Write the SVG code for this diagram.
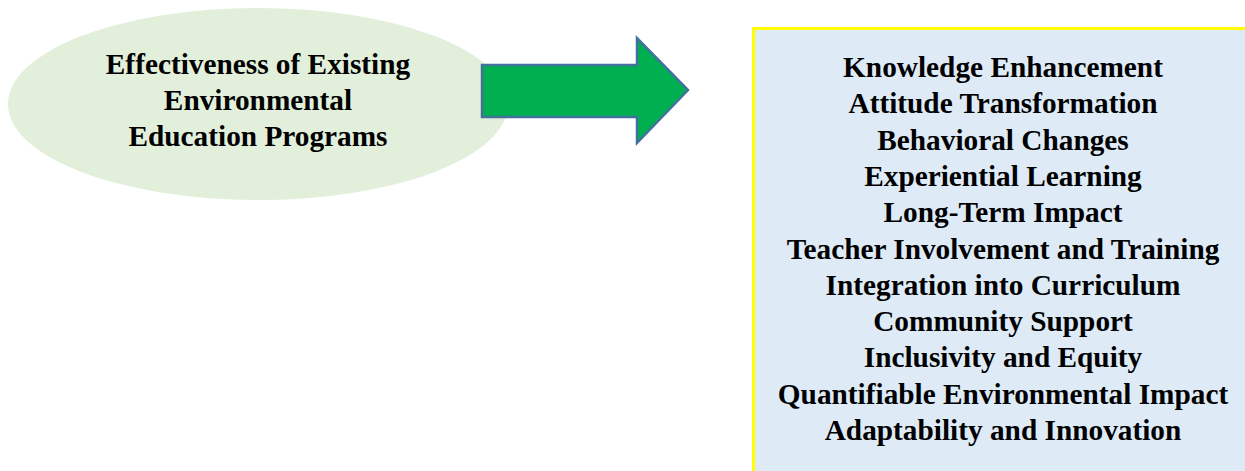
<svg xmlns="http://www.w3.org/2000/svg" width="1245" height="471" viewBox="0 0 1245 471">
  <style>
    .label { font-family: "Liberation Serif", "Times New Roman", serif; font-weight: bold; font-size: 29.3px; fill: #000; text-anchor: middle; }
  </style>
  <rect width="1245" height="471" fill="#ffffff"/>

  <!-- Topic ellipse -->
  <g id="topic">
    <ellipse cx="258" cy="104" rx="250" ry="96" fill="#E2EFDA"/>
    <text class="label" x="258" y="73.5">Effectiveness of Existing</text>
    <text class="label" x="258" y="109.8">Environmental</text>
    <text class="label" x="258" y="146.1">Education Programs</text>
  </g>

  <!-- Block arrow joining the topic to the outcome list -->
  <g id="connectors">
    <path d="M482,65 H637 V38 L688,90 L637,143 V117 H482 Z" fill="#00B050" stroke="#41719C" stroke-width="2.5" stroke-linejoin="miter"/>
  </g>

  <!-- Outcome list box -->
  <g id="outcomes">
    <rect x="753.5" y="28.5" width="520" height="480" fill="#DEEBF7" stroke="#FFFF00" stroke-width="3"/>
    <text class="label" x="1003" y="77">Knowledge Enhancement</text>
    <text class="label" x="1003" y="113.3">Attitude Transformation</text>
    <text class="label" x="1003" y="149.6">Behavioral Changes</text>
    <text class="label" x="1003" y="185.9">Experiential Learning</text>
    <text class="label" x="1003" y="222.2">Long-Term Impact</text>
    <text class="label" x="1003" y="258.5">Teacher Involvement and Training</text>
    <text class="label" x="1003" y="294.8">Integration into Curriculum</text>
    <text class="label" x="1003" y="331.1">Community Support</text>
    <text class="label" x="1003" y="367.4">Inclusivity and Equity</text>
    <text class="label" x="1003" y="403.7">Quantifiable Environmental Impact</text>
    <text class="label" x="1003" y="440">Adaptability and Innovation</text>
  </g>
</svg>
